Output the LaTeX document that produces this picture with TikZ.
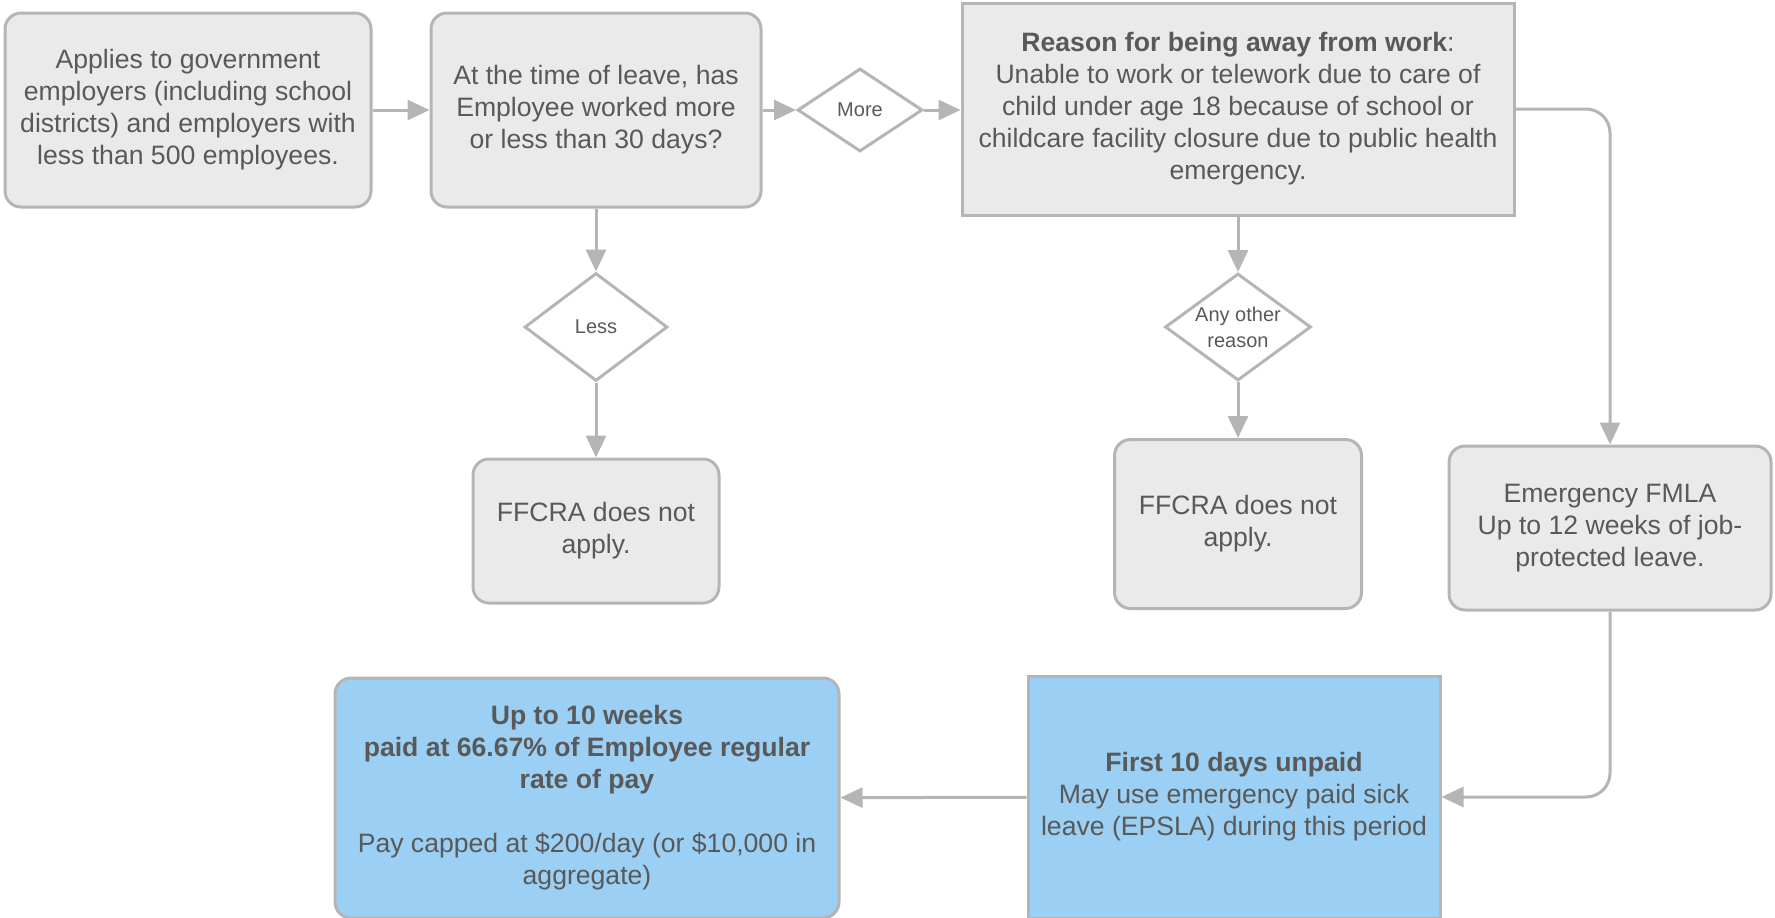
\documentclass[tikz,border=0pt]{standalone}
\usepackage{fontspec}
\setmainfont{Liberation Sans}
\usetikzlibrary{positioning,shapes.geometric,arrows.meta}
\definecolor{boxgray}{HTML}{EAEAEA}
\definecolor{linegray}{HTML}{B5B5B5}
\definecolor{txtgray}{HTML}{595959}
\definecolor{paleblue}{HTML}{9BCFF3}

\begin{document}
\begin{tikzpicture}[x=0.5pt,y=-0.5pt,gb/.style={draw=linegray,line
width=1.5pt,fill=boxgray,text=txtgray,align=center,inner sep=0pt,
font=\fontsize{13.3}{16}\selectfont},bb/.style={gb,fill=paleblue},
dv/.style={diamond,draw=linegray,line width=1.5pt,fill=white,inner
sep=0pt,text=txtgray,align=center,font=\fontsize{10}{13}\selectfont},
ar/.style={draw=linegray,line width=1.5pt,-{Triangle[length=11pt,width=10pt]}}]
\useasboundingbox (0,0) rectangle (1775,917);
\node[gb,rounded corners=8pt,minimum width=183pt,minimum height=97pt] (apply) at (188,110)
  {Applies to government\\employers (including school\\districts) and employers with\\less than 500 employees.};
\node[gb,rounded corners=8pt,minimum width=165pt,minimum height=97pt] (days) at (596,110)
  {At the time of leave, has\\Employee worked more\\or less than 30 days?};
\node[dv,aspect=1.5,minimum width=62.5pt,minimum height=41.5pt] (more) at (860,110) {More};
\node[gb,minimum width=276pt,minimum height=106pt] (reason) at (1238,109)
  {\textbf{Reason for being away from work}:\\Unable to work or telework due to care of\\child under age 18 because of school or\\childcare facility closure due to public health\\emergency.};
\node[dv,aspect=1.32,minimum width=71.5pt,minimum height=54pt] (less) at (596,327) {Less};
\node[gb,rounded corners=8pt,minimum width=123pt,minimum height=72pt] (noapp1) at (596,531)
  {FFCRA does not\\apply.};
\node[dv,aspect=1.4,minimum width=73pt,minimum height=53.5pt] (other) at (1238,327) {Any other\\reason};
\node[gb,rounded corners=8pt,minimum width=123.5pt,minimum height=84.5pt] (noapp2) at (1238,524)
  {FFCRA does not\\apply.};
\node[gb,rounded corners=8pt,minimum width=161pt,minimum height=82pt] (fmla) at (1610,528)
  {Emergency FMLA\\Up to 12 weeks of job-\\protected leave.};
\node[bb,minimum width=206pt,minimum height=121pt] (unpaid) at (1234,797)
  {\textbf{First 10 days unpaid}\\May use emergency paid sick\\leave (EPSLA) during this period};
\node[bb,rounded corners=8pt,minimum width=252pt,minimum height=120pt] (paid) at (587,798)
  {\textbf{Up to 10 weeks}\\\textbf{paid at 66.67\% of Employee regular}\\\textbf{rate of pay}\\[16pt]Pay capped at \$200/day (or \$10,000 in\\aggregate)};
\draw[ar] (apply) -- (days);
\draw[ar] (days) -- (more);
\draw[ar] (more) -- (reason.west |- more);
\draw[ar] (days) -- (less);
\draw[ar] (less) -- (noapp1);
\draw[ar] (reason) -- (other);
\draw[ar] (other) -- (noapp2);
\draw[ar,rounded corners=12pt] (reason) -| (fmla);
\draw[ar,rounded corners=12pt] (fmla) |- (unpaid);
\draw[ar] (unpaid) -- (paid);
\end{tikzpicture}
\end{document}
